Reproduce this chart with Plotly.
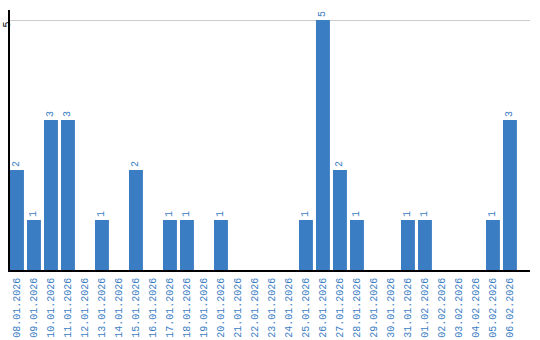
import plotly.graph_objects as go

dates = ["08.01.2026","09.01.2026","10.01.2026","11.01.2026","12.01.2026","13.01.2026",
         "14.01.2026","15.01.2026","16.01.2026","17.01.2026","18.01.2026","19.01.2026",
         "20.01.2026","21.01.2026","22.01.2026","23.01.2026","24.01.2026","25.01.2026",
         "26.01.2026","27.01.2026","28.01.2026","29.01.2026","30.01.2026","31.01.2026",
         "01.02.2026","02.02.2026","03.02.2026","04.02.2026","05.02.2026","06.02.2026"]
counts = [2,1,3,3,0,1,0,2,0,1,1,0,1,0,0,0,0,1,5,2,1,0,0,1,1,0,0,0,1,3]
labels = [str(c) if c > 0 else "" for c in counts]

blue = "#3b7dc3"
fnt = "Liberation Mono"

fig = go.Figure(go.Bar(
    x=dates, y=counts, marker_color=blue, marker_line_width=0,
    text=labels, textposition="outside", textangle=-90,
    textfont=dict(family=fnt, size=10, color=blue), cliponaxis=False,
))
fig.update_layout(
    width=540, height=340, margin=dict(l=10, r=10, t=10, b=70),
    plot_bgcolor="white", paper_bgcolor="white", bargap=0.18,
    showlegend=False, uniformtext=dict(mode=False),
)
fig.update_xaxes(type="category", range=[-0.41, 30.18], tickangle=-90,
                 tickfont=dict(family=fnt, size=10, color=blue),
                 showline=True, linecolor="black", linewidth=1.5,
                 showgrid=False, ticks="", automargin=False, ticklabelstandoff=2)
fig.update_yaxes(range=[0, 5.2], tickvals=[5], ticktext=["5"], tickangle=-90,
                 tickfont=dict(family=fnt, size=10, color="black"),
                 showline=True, linecolor="black", linewidth=1.5,
                 showgrid=True, gridcolor="#cccccc", gridwidth=1,
                 zeroline=False, ticks="", automargin=False, ticklabelstandoff=-6,
                 ticklabelshift=6)
fig.write_html("out.html")
